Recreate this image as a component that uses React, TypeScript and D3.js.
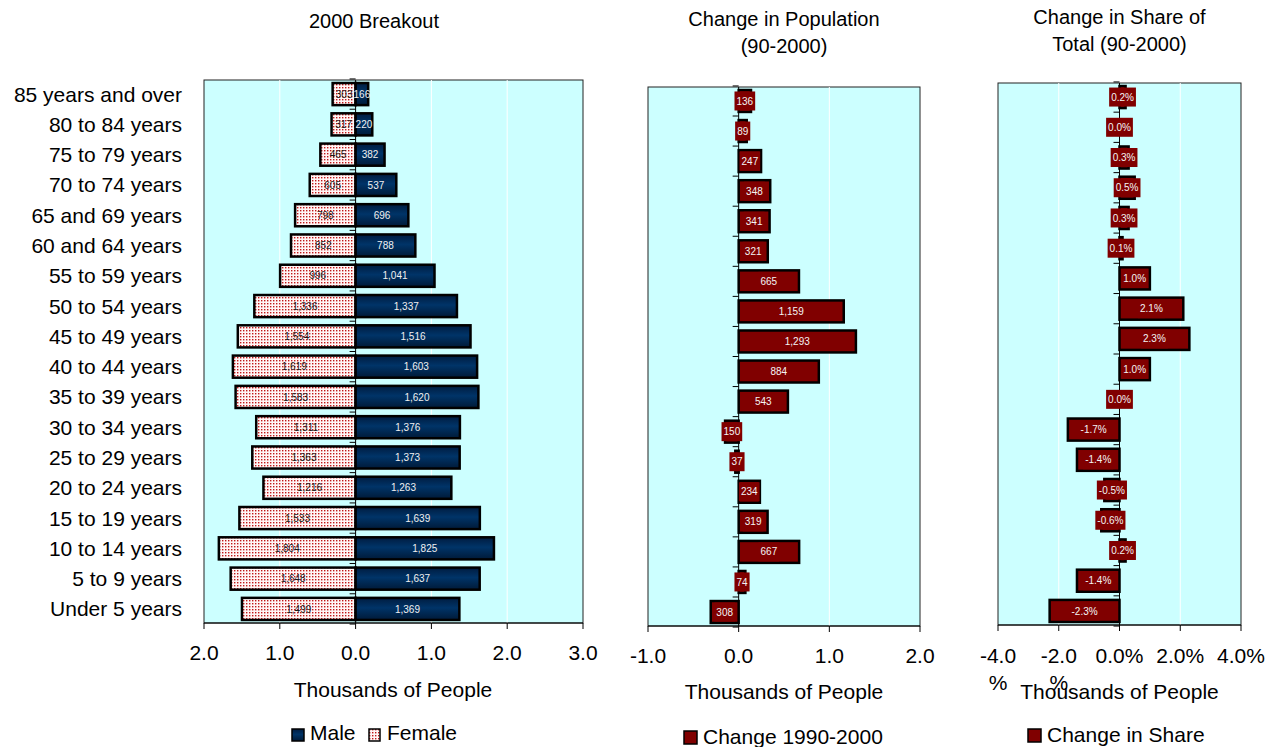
import React from "react";
import * as d3 from "d3";

// Age groups, top to bottom as drawn.
const ageGroups = [
    "85 years and over", "80 to 84 years", "75 to 79 years", "70 to 74 years",
    "65 and 69 years", "60 and 64 years", "55 to 59 years", "50 to 54 years",
    "45 to 49 years", "40 to 44 years", "35 to 39 years", "30 to 34 years",
    "25 to 29 years", "20 to 24 years", "15 to 19 years", "10 to 14 years",
    "5 to 9 years", "Under 5 years",
];

// 2000 population, thousands.
const maleValues = [166, 220, 382, 537, 696, 788, 1041, 1337, 1516, 1603, 1620, 1376, 1373, 1263, 1639, 1825, 1637, 1369];
const femaleValues = [303, 317, 465, 605, 798, 852, 996, 1336, 1554, 1619, 1583, 1311, 1363, 1216, 1533, 1804, 1648, 1499];

// Change 1990-2000, thousands.
const popChange = [136, 89, 247, 348, 341, 321, 665, 1159, 1293, 884, 543, -150, -37, 234, 319, 667, 74, -308];

// Change in share of total, percent points.
const shareChange = [0.2, 0.0, 0.3, 0.5, 0.3, 0.1, 1.0, 2.1, 2.3, 1.0, 0.0, -1.7, -1.4, -0.5, -0.6, 0.2, -1.4, -2.3];

const breakoutTicks = [-2000, -1000, 0, 1000, 2000, 3000];
const popTicks = [-1000, 0, 1000, 2000];
const shareTicks = [-4, -2, 0, 2, 4];

const FONT = "'Liberation Sans', Arial, Helvetica, sans-serif";
const BG = "#ccffff";
const MAROON = "#800000";

interface IBox { left: number; right: number; top: number; bottom: number; }

// rough Arial advance widths, used to size the label boxes
const charWidth = (c: string): number => {
    if (c === "," || c === ".") { return 0.278; }
    if (c === "%") { return 0.889; }
    if (c === "-") { return 0.333; }
    return 0.556;
};
const textWidth = (s: string, size: number): number => {
    return s.split("").reduce((sum, c) => sum + charWidth(c), 0) * size;
};

const makeY = (box: IBox) => d3.scaleBand<string>()
    .domain(ageGroups)
    .range([box.top, box.bottom])
    .paddingInner(0.27)
    .paddingOuter(0.1);

// tick marks on the value axis between categories
const CategoryTicks = ({ y, x0 }: { y: d3.ScaleBand<string>; x0: number }) => {
    const step = y.step();
    const first = (y(ageGroups[0]) ?? 0) - step * y.paddingInner() / 2;
    const marks = d3.range(ageGroups.length + 1).map((i) => first + i * step);

    return (
        <g>
            {marks.map((m, i) => (
                <line key={i} x1={x0 - 6} x2={x0} y1={m} y2={m} stroke="#000" strokeWidth={1} />
            ))}
        </g>
    );
};

const Frame = ({ box, x, ticks }: { box: IBox; x: d3.ScaleLinear<number, number>; ticks: number[] }) => (
    <g>
        <rect x={box.left} y={box.top} width={box.right - box.left} height={box.bottom - box.top}
            fill={BG} stroke="#222" strokeWidth={1} />
        {ticks.filter((t) => t !== 0 && x(t) > box.left + 1 && x(t) < box.right - 1).map((t) => (
            <line key={t} x1={x(t)} x2={x(t)} y1={box.top} y2={box.bottom} stroke="#fff" strokeWidth={1} />
        ))}
    </g>
);

const BottomAxis = ({ box, x, ticks, format, baseline }: {
    box: IBox; x: d3.ScaleLinear<number, number>; ticks: number[];
    format: (v: number) => string[]; baseline: number;
}) => (
    <g>
        <line x1={box.left} x2={box.right} y1={box.bottom} y2={box.bottom} stroke="#000" strokeWidth={1} />
        {ticks.map((t) => (
            <g key={t}>
                <line x1={x(t)} x2={x(t)} y1={box.bottom} y2={box.bottom + 6} stroke="#000" strokeWidth={1} />
                {format(t).map((line, i) => (
                    <text key={i} x={x(t)} y={baseline + i * 27} textAnchor="middle" fontSize={21} fill="#000">
                        {line}
                    </text>
                ))}
            </g>
        ))}
    </g>
);

const BreakoutPanel = () => {
    const box: IBox = { left: 204, right: 583, top: 80, bottom: 623 };
    const x = d3.scaleLinear().domain([-2000, 3000]).range([box.left, box.right]);
    const y = makeY(box);
    const x0 = x(0);
    const fmt = d3.format(",");

    return (
        <g>
            <text x={374} y={28} textAnchor="middle" fontSize={20}>2000 Breakout</text>
            <Frame box={box} x={x} ticks={breakoutTicks} />

            {ageGroups.map((g) => (
                <text key={g} x={182} y={(y(g) ?? 0) + y.bandwidth() / 2} dy="0.36em"
                    textAnchor="end" fontSize={21}>{g}</text>
            ))}

            {femaleValues.map((v, i) => (
                <rect key={"f" + i} x={x(-v)} y={y(ageGroups[i])} width={x0 - x(-v)} height={y.bandwidth()}
                    fill="url(#dots)" stroke="#000" strokeWidth={2.5} />
            ))}
            {maleValues.map((v, i) => (
                <rect key={"m" + i} x={x0} y={y(ageGroups[i])} width={x(v) - x0} height={y.bandwidth()}
                    fill="url(#navy)" stroke="#000" strokeWidth={2.5} />
            ))}

            <line x1={x0} x2={x0} y1={box.top} y2={box.bottom} stroke="#000" strokeWidth={1} />
            <CategoryTicks y={y} x0={x0} />

            {femaleValues.map((v, i) => (
                <text key={"fl" + i} x={(x(-v) + x0) / 2} y={(y(ageGroups[i]) ?? 0) + y.bandwidth() / 2}
                    dy="0.36em" textAnchor="middle" fontSize={10} fill="#1a1a1a">{fmt(v)}</text>
            ))}
            {maleValues.map((v, i) => (
                <text key={"ml" + i} x={(x(v) + x0) / 2} y={(y(ageGroups[i]) ?? 0) + y.bandwidth() / 2}
                    dy="0.36em" textAnchor="middle" fontSize={10} fill="#f0f0f0">{fmt(v)}</text>
            ))}

            <BottomAxis box={box} x={x} ticks={breakoutTicks} baseline={660}
                format={(t) => [(Math.abs(t) / 1000).toFixed(1)]} />
            <text x={393} y={697} textAnchor="middle" fontSize={21}>Thousands of People</text>

            <rect x={292} y={729} width={12} height={12} fill="url(#navy)" stroke="#000" strokeWidth={1.5} />
            <text x={310} y={740} fontSize={21}>Male</text>
            <rect x={369} y={729} width={11} height={12} fill="url(#dots)" stroke="#000" strokeWidth={1.5} />
            <text x={387} y={740} fontSize={21}>Female</text>
        </g>
    );
};

const ChangePanel = ({ box, domain, ticks, values, label, tickFormat, title, titleY, legend, legendX, legendY }: {
    box: IBox; domain: [number, number]; ticks: number[]; values: number[];
    label: (v: number) => string; tickFormat: (v: number) => string[];
    title: string[]; titleY: number; legend: string; legendX: number; legendY: number;
}) => {
    const x = d3.scaleLinear().domain(domain).range([box.left, box.right]);
    const y = makeY(box);
    const x0 = x(0);
    const cx = (box.left + box.right) / 2;

    return (
        <g>
            {title.map((t, i) => (
                <text key={i} x={cx} y={titleY + i * 27} textAnchor="middle" fontSize={20}>{t}</text>
            ))}
            <Frame box={box} x={x} ticks={ticks} />

            {values.map((v, i) => (
                <rect key={i} x={Math.min(x(v), x0)} y={y(ageGroups[i])} width={Math.abs(x(v) - x0)}
                    height={y.bandwidth()} fill={MAROON} stroke="#000" strokeWidth={2.5} />
            ))}

            <line x1={x0} x2={x0} y1={box.top} y2={box.bottom} stroke="#000" strokeWidth={1} />
            <CategoryTicks y={y} x0={x0} />

            {values.map((v, i) => {
                const s = label(v);
                const w = textWidth(s, 10) + 4;
                const mx = (x(v) + x0) / 2;
                const my = (y(ageGroups[i]) ?? 0) + y.bandwidth() / 2;
                return (
                    <g key={"l" + i}>
                        <rect x={mx - w / 2} y={my - 9.5} width={w} height={19} fill={MAROON} />
                        <text x={mx} y={my} dy="0.36em" textAnchor="middle" fontSize={10} fill="#f4f4f4">{s}</text>
                    </g>
                );
            })}

            <BottomAxis box={box} x={x} ticks={ticks} baseline={663} format={tickFormat} />
            <text x={cx} y={699} textAnchor="middle" fontSize={21}>Thousands of People</text>

            <rect x={legendX} y={legendY - 13} width={13} height={13}
                fill={MAROON} stroke="#000" strokeWidth={1.5} />
            <text x={legendX + 19} y={legendY} fontSize={21}>{legend}</text>
        </g>
    );
};

const App = () => {
    const commaFmt = d3.format(",");

    return (
        <svg width={1274} height={747} style={{ position: "absolute", left: 0, top: 0 }}
            fontFamily={FONT}>
            <defs>
                <pattern id="dots" width={3} height={3} patternUnits="userSpaceOnUse">
                    <rect width={3} height={3} fill="#fff6f6" />
                    <rect width={1.4} height={1.4} fill="#c01818" />
                </pattern>
                <linearGradient id="navy" x1="0" y1="0" x2="0" y2="1">
                    <stop offset="0%" stopColor="#001c40" />
                    <stop offset="45%" stopColor="#003468" />
                    <stop offset="100%" stopColor="#001a38" />
                </linearGradient>
            </defs>

            <BreakoutPanel />

            <ChangePanel
                box={{ left: 648, right: 920, top: 87, bottom: 626 }}
                domain={[-1000, 2000]}
                ticks={popTicks}
                values={popChange}
                label={(v) => commaFmt(Math.abs(v))}
                tickFormat={(t) => [(t / 1000).toFixed(1)]}
                title={["Change in Population", "(90-2000)"]}
                titleY={26}
                legend="Change 1990-2000"
                legendX={684}
                legendY={744}
            />

            <ChangePanel
                box={{ left: 998, right: 1241, top: 83, bottom: 625 }}
                domain={[-4, 4]}
                ticks={shareTicks}
                values={shareChange}
                label={(v) => v.toFixed(1) + "%"}
                tickFormat={(t) => (t < 0 ? [t.toFixed(1), "%"] : [t.toFixed(1) + "%"])}
                title={["Change in Share of", "Total (90-2000)"]}
                titleY={24}
                legend="Change in Share"
                legendX={1028}
                legendY={742}
            />
        </svg>
    );
};

export default App;
